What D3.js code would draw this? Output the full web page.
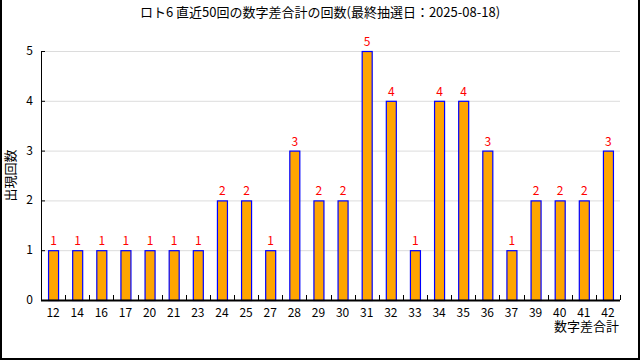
<!DOCTYPE html>
<html>
<head>
<meta charset="utf-8">
<script src="https://cdn.jsdelivr.net/npm/d3@7"></script>
<style>
  body { margin: 0; background: #fff; }
  svg { display: block; font-family: "Noto Sans CJK JP", "DejaVu Sans", sans-serif; }
</style>
</head>
<body>
<div id="chart"></div>
<script>
const title = 'ロト6 直近50回の数字差合計の回数(最終抽選日：2025-08-18)'
const categories = ['12','14','16','17','20','21','23','24','25','27','28','29','30','31','32','33','34','35','36','37','39','40','41','42']
const counts = [1,1,1,1,1,1,1,2,2,1,3,2,2,5,4,1,4,4,3,1,2,2,2,3]
const yTicks = [0,1,2,3,4,5]

const W = 640, H = 360
const MARGIN = { top: 51, right: 20, bottom: 60, left: 41 }

const svg = d3.select('#chart').append('svg')
  .attr('width', W).attr('height', H)

// frame (left, bottom, right)
svg.append('path')
  .attr('d', `M1,0V${H - 1}H${W - 1}V0`)
  .attr('fill', 'none').attr('stroke', '#000').attr('stroke-width', 2)

svg.append('text')
  .attr('x', W / 2).attr('y', 17)
  .attr('text-anchor', 'middle')
  .style('font-size', '13px')
  .text(title)

const x = d3.scaleBand()
  .domain(categories)
  .range([MARGIN.left, W - MARGIN.right])
  .paddingInner(0.585)
  .paddingOuter(0.2925)

const y = d3.scaleLinear()
  .domain([0, 5])
  .range([H - MARGIN.bottom, MARGIN.top])

// gridlines
svg.append('g')
  .selectAll('line')
  .data(yTicks.filter(d => d > 0))
  .join('line')
  .attr('x1', MARGIN.left).attr('x2', W - MARGIN.right)
  .attr('y1', d => y(d) + 0.5).attr('y2', d => y(d) + 0.5)
  .attr('stroke', '#dcdcdc')

// bars
svg.append('g')
  .selectAll('rect')
  .data(counts)
  .join('rect')
  .attr('x', (d, i) => x(categories[i]) + 0.5)
  .attr('y', d => y(d) + 0.5)
  .attr('width', x.bandwidth())
  .attr('height', d => y(0) - y(d))
  .attr('fill', '#ffa500')
  .attr('stroke', '#0000ff')
  .attr('stroke-width', 1.2)

// value labels
svg.append('g')
  .selectAll('text')
  .data(counts)
  .join('text')
  .attr('x', (d, i) => x(categories[i]) + x.bandwidth() / 2 + 0.5)
  .attr('y', d => y(d) - 5)
  .attr('text-anchor', 'middle')
  .style('font-size', '12px')
  .attr('fill', '#ff0000')
  .text(d => d)

// y axis
svg.append('g')
  .attr('transform', `translate(${MARGIN.left},0)`)
  .call(d3.axisRight(y).tickValues(yTicks).tickSize(4).tickFormat(''))
  .call(sel => sel.select('.domain').attr('d', `M0.5,${y(5)}V${y(0) + 0.5}`))
  .call(sel => sel.selectAll('.tick line').attr('stroke', '#000'))

svg.append('g')
  .selectAll('text')
  .data(yTicks)
  .join('text')
  .attr('x', MARGIN.left - 8)
  .attr('y', d => y(d) + 4)
  .attr('text-anchor', 'end')
  .style('font-size', '12px')
  .text(d => d)

// x axis
const step = x.step()
const edges = d3.range(1, categories.length + 1).map(i => MARGIN.left + i * step)
svg.append('line')
  .attr('x1', MARGIN.left).attr('x2', W - MARGIN.right)
  .attr('y1', y(0) + 0.5).attr('y2', y(0) + 0.5)
  .attr('stroke', '#000').attr('stroke-width', 2)
svg.append('g')
  .selectAll('line')
  .data(edges)
  .join('line')
  .attr('x1', d => Math.round(d) + 0.5).attr('x2', d => Math.round(d) + 0.5)
  .attr('y1', y(0)).attr('y2', y(0) - 5)
  .attr('stroke', '#000')

svg.append('g')
  .attr('transform', `translate(0,${y(0)})`)
  .call(d3.axisBottom(x).tickSize(0).tickPadding(8))
  .call(sel => sel.select('.domain').remove())
  .call(sel => sel.selectAll('.tick text')
    .style('font-size', '12px')
    .style('font-family', '"Noto Sans CJK JP", sans-serif')
    .attr('fill', '#000'))

// axis titles
svg.append('text')
  .attr('x', W - MARGIN.right - 1).attr('y', 331)
  .attr('text-anchor', 'end')
  .style('font-size', '13px')
  .text('数字差合計')

svg.append('text')
  .attr('transform', `translate(15,${(y(0) + y(5)) / 2}) rotate(-90)`)
  .attr('text-anchor', 'middle')
  .style('font-size', '13px')
  .text('出現回数')
</script>
</body>
</html>
